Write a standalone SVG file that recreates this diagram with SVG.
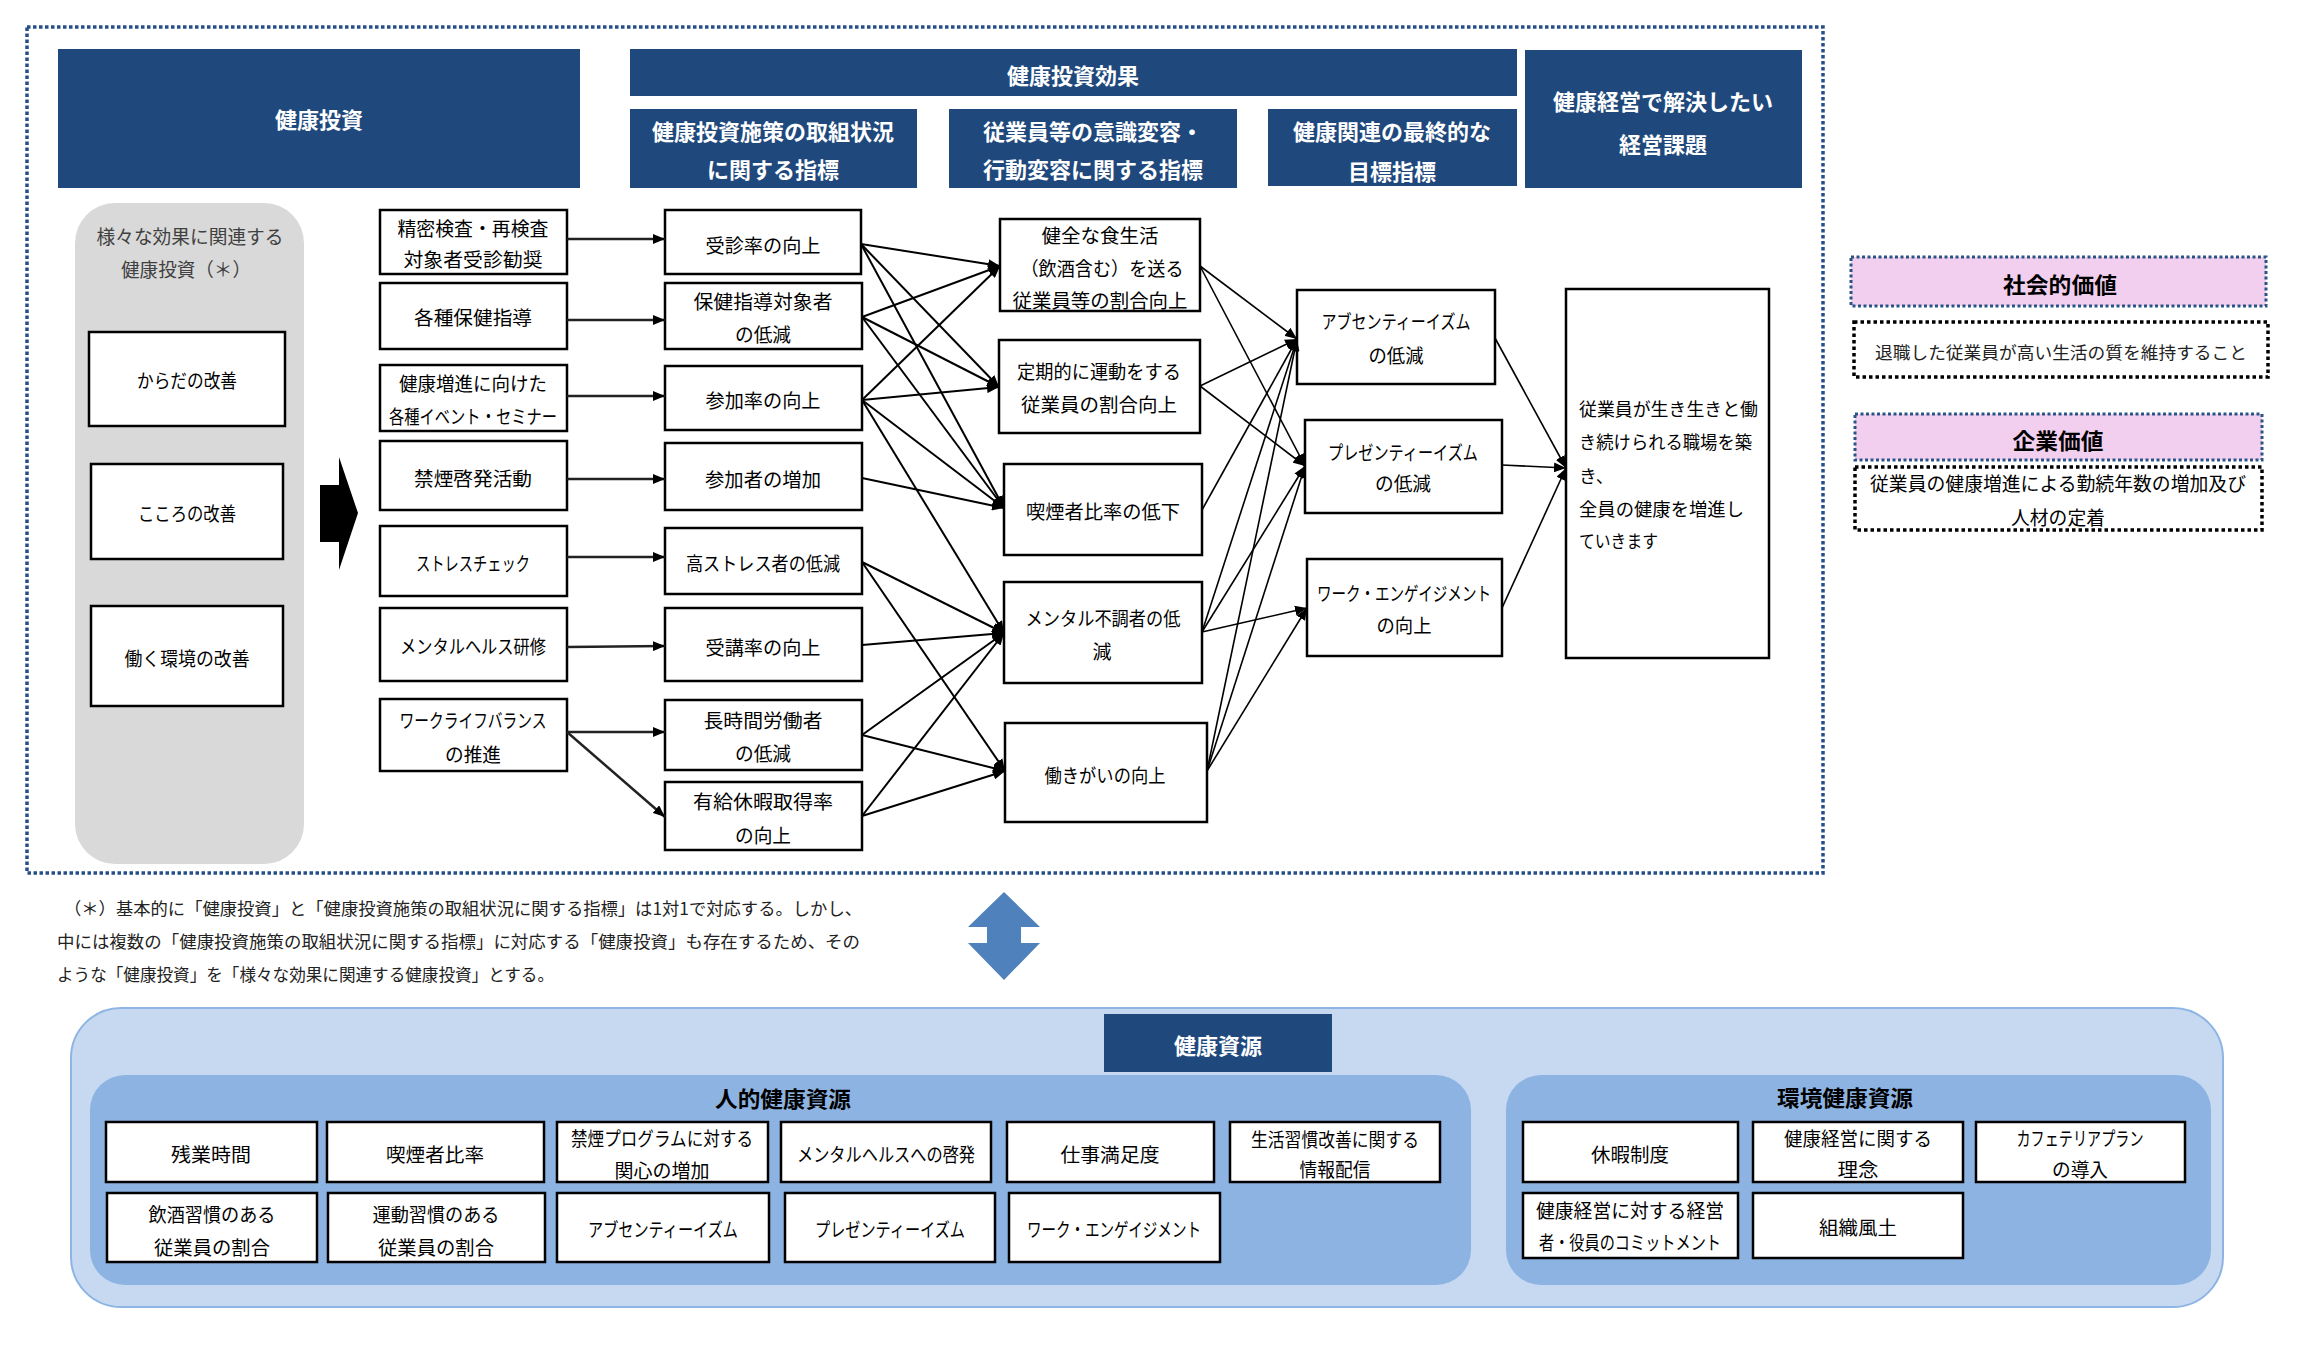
<svg xmlns="http://www.w3.org/2000/svg" width="2318" height="1345" viewBox="0 0 2318 1345" font-family="'Noto Sans CJK JP', 'Noto Sans', sans-serif">
<defs>
<style>
.hdr{fill:#1F497D}
.ht{fill:#fff;font-weight:bold;font-size:22px;text-anchor:middle;dominant-baseline:central}
.nb{fill:#fff;stroke:#000;stroke-width:2.5}
.t{font-size:19px;text-anchor:middle;dominant-baseline:central;fill:#000}
.tl{font-size:18px;dominant-baseline:central;fill:#000}
.gt{font-size:19px;text-anchor:middle;dominant-baseline:central;fill:#404040}
.fn{font-size:17px;dominant-baseline:central;fill:#222}
.bt{font-size:19px;text-anchor:middle;dominant-baseline:central;fill:#000}
.pink{fill:#F2CFEE;stroke:#2A5486;stroke-width:3;stroke-dasharray:3 2.5}
.dotb{fill:#fff;stroke:#000;stroke-width:3.5;stroke-dasharray:3.5 3}
.bold{font-weight:bold;font-size:22px;text-anchor:middle;dominant-baseline:central;fill:#000}
.c1{stroke:#222;stroke-width:2.5;fill:none;marker-end:url(#ah)}
.c2{stroke:#000;stroke-width:2;fill:none;marker-end:url(#ah)}
.c3{stroke:#000;stroke-width:1.6;fill:none;marker-end:url(#ah)}
</style>
<marker id="ah" viewBox="0 0 12 10" refX="12" refY="5" markerWidth="12" markerHeight="10" markerUnits="userSpaceOnUse" orient="auto"><path d="M0,0 L12,5 L0,10 z" fill="#000"/></marker>
</defs>
<rect x="0" y="0" width="2318" height="1345" fill="#fff"/>

<!-- outer dotted frame -->
<rect id="frame" x="27" y="27" width="1796" height="846" fill="none" stroke="#264F8A" stroke-width="3.5" stroke-dasharray="3.5 2.5"/>

<!-- headers -->
<g id="h-invest"><rect class="hdr" x="58" y="49" width="522" height="139"/><text class="ht" x="319" y="118">健康投資</text></g>
<g id="h-effect"><rect class="hdr" x="630" y="49" width="887" height="47"/><text class="ht" x="1073" y="74">健康投資効果</text></g>
<g id="h-sub1"><rect class="hdr" x="630" y="109" width="287" height="79"/><text class="ht" x="773" y="130">健康投資施策の取組状況</text><text class="ht" x="773" y="168">に関する指標</text></g>
<g id="h-sub2"><rect class="hdr" x="949" y="109" width="288" height="79"/><text class="ht" x="1093" y="130">従業員等の意識変容・</text><text class="ht" x="1093" y="168">行動変容に関する指標</text></g>
<g id="h-sub3"><rect class="hdr" x="1268" y="109" width="249" height="77"/><text class="ht" x="1392" y="130">健康関連の最終的な</text><text class="ht" x="1392" y="170">目標指標</text></g>
<g id="h-issue"><rect class="hdr" x="1525" y="50" width="277" height="138"/><text class="ht" x="1663" y="100">健康経営で解決したい</text><text class="ht" x="1663" y="143">経営課題</text></g>

<!-- gray column -->
<g id="various">
<rect x="75" y="203" width="229" height="661" rx="40" fill="#D9D9D9"/>
<text class="gt" x="190" y="235" textLength="187" lengthAdjust="spacingAndGlyphs">様々な効果に関連する</text>
<text class="gt" x="186" y="268" textLength="130" lengthAdjust="spacingAndGlyphs">健康投資（＊）</text>
</g>
<g id="karada"><rect class="nb" x="89" y="332" width="196" height="94"/><text class="t" x="187" y="379" textLength="100" lengthAdjust="spacingAndGlyphs">からだの改善</text></g>
<g id="kokoro"><rect class="nb" x="91" y="464" width="192" height="95"/><text class="t" x="187" y="512" textLength="98" lengthAdjust="spacingAndGlyphs">こころの改善</text></g>
<g id="hataraku"><rect class="nb" x="91" y="606" width="192" height="100"/><text class="t" x="187" y="657" textLength="125" lengthAdjust="spacingAndGlyphs">働く環境の改善</text></g>

<!-- big arrow -->
<polygon id="bigarrow" points="320,485 339,485 339,457 358,513 339,570 339,542 320,542" fill="#000"/>

<!-- column 1 -->
<g id="n-seimitsu"><rect class="nb" x="380" y="210" width="187" height="64"/><text class="t" x="473" y="227" textLength="151" lengthAdjust="spacingAndGlyphs">精密検査・再検査</text><text class="t" x="473" y="258" textLength="139" lengthAdjust="spacingAndGlyphs">対象者受診勧奨</text></g>
<g id="n-hoken"><rect class="nb" x="380" y="283" width="187" height="66"/><text class="t" x="473" y="316" textLength="118" lengthAdjust="spacingAndGlyphs">各種保健指導</text></g>
<g id="n-event"><rect class="nb" x="380" y="365" width="187" height="66"/><text class="t" x="473" y="382" textLength="148" lengthAdjust="spacingAndGlyphs">健康増進に向けた</text><text class="t" x="473" y="415" textLength="168" lengthAdjust="spacingAndGlyphs">各種イベント・セミナー</text></g>
<g id="n-kinen"><rect class="nb" x="380" y="441" width="187" height="69"/><text class="t" x="473" y="477" textLength="118" lengthAdjust="spacingAndGlyphs">禁煙啓発活動</text></g>
<g id="n-stress"><rect class="nb" x="380" y="526" width="187" height="70"/><text class="t" x="473" y="562" textLength="114" lengthAdjust="spacingAndGlyphs">ストレスチェック</text></g>
<g id="n-mental"><rect class="nb" x="380" y="608" width="187" height="73"/><text class="t" x="473" y="645" textLength="146" lengthAdjust="spacingAndGlyphs">メンタルヘルス研修</text></g>
<g id="n-wlb"><rect class="nb" x="380" y="699" width="187" height="72"/><text class="t" x="473" y="719" textLength="147" lengthAdjust="spacingAndGlyphs">ワークライフバランス</text><text class="t" x="473" y="753" textLength="56" lengthAdjust="spacingAndGlyphs">の推進</text></g>

<!-- column 2 -->
<g id="i-jushin"><rect class="nb" x="665" y="210" width="196" height="64"/><text class="t" x="763" y="244" textLength="115" lengthAdjust="spacingAndGlyphs">受診率の向上</text></g>
<g id="i-hoken"><rect class="nb" x="665" y="283" width="197" height="66"/><text class="t" x="763" y="300" textLength="139" lengthAdjust="spacingAndGlyphs">保健指導対象者</text><text class="t" x="763" y="333" textLength="56" lengthAdjust="spacingAndGlyphs">の低減</text></g>
<g id="i-sanka"><rect class="nb" x="665" y="366" width="197" height="64"/><text class="t" x="763" y="399" textLength="115" lengthAdjust="spacingAndGlyphs">参加率の向上</text></g>
<g id="i-sankasha"><rect class="nb" x="665" y="443" width="197" height="67"/><text class="t" x="763" y="478" textLength="116" lengthAdjust="spacingAndGlyphs">参加者の増加</text></g>
<g id="i-kostress"><rect class="nb" x="665" y="528" width="197" height="66"/><text class="t" x="763" y="562" textLength="154" lengthAdjust="spacingAndGlyphs">高ストレス者の低減</text></g>
<g id="i-juko"><rect class="nb" x="665" y="608" width="197" height="73"/><text class="t" x="763" y="646" textLength="115" lengthAdjust="spacingAndGlyphs">受講率の向上</text></g>
<g id="i-choji"><rect class="nb" x="665" y="700" width="197" height="70"/><text class="t" x="763" y="719" textLength="119" lengthAdjust="spacingAndGlyphs">長時間労働者</text><text class="t" x="763" y="752" textLength="56" lengthAdjust="spacingAndGlyphs">の低減</text></g>
<g id="i-yukyu"><rect class="nb" x="665" y="782" width="197" height="68"/><text class="t" x="763" y="800" textLength="140" lengthAdjust="spacingAndGlyphs">有給休暇取得率</text><text class="t" x="763" y="834" textLength="56" lengthAdjust="spacingAndGlyphs">の向上</text></g>

<!-- column 3 -->
<g id="b-shoku"><rect class="nb" x="1000" y="219" width="200" height="92"/><text class="t" x="1100" y="234" textLength="117" lengthAdjust="spacingAndGlyphs">健全な食生活</text><text class="t" x="1102" y="267" textLength="163" lengthAdjust="spacingAndGlyphs">（飲酒含む）を送る</text><text class="t" x="1100" y="299" textLength="175" lengthAdjust="spacingAndGlyphs">従業員等の割合向上</text></g>
<g id="b-undo"><rect class="nb" x="999" y="340" width="201" height="93"/><text class="t" x="1099" y="370" textLength="164" lengthAdjust="spacingAndGlyphs">定期的に運動をする</text><text class="t" x="1099" y="403" textLength="156" lengthAdjust="spacingAndGlyphs">従業員の割合向上</text></g>
<g id="b-kitsuen"><rect class="nb" x="1004" y="464" width="198" height="91"/><text class="t" x="1103" y="510" textLength="154" lengthAdjust="spacingAndGlyphs">喫煙者比率の低下</text></g>
<g id="b-mental"><rect class="nb" x="1004" y="582" width="198" height="101"/><text class="t" x="1103" y="617" textLength="155" lengthAdjust="spacingAndGlyphs">メンタル不調者の低</text><text class="t" x="1102" y="650">減</text></g>
<g id="b-yarigai"><rect class="nb" x="1005" y="723" width="202" height="99"/><text class="t" x="1105" y="774" textLength="121" lengthAdjust="spacingAndGlyphs">働きがいの向上</text></g>

<!-- column 4 -->
<g id="g-absen"><rect class="nb" x="1297" y="290" width="198" height="94"/><text class="t" x="1396" y="320" textLength="149" lengthAdjust="spacingAndGlyphs">アブセンティーイズム</text><text class="t" x="1396" y="354" textLength="55" lengthAdjust="spacingAndGlyphs">の低減</text></g>
<g id="g-presen"><rect class="nb" x="1305" y="420" width="197" height="93"/><text class="t" x="1403" y="451" textLength="150" lengthAdjust="spacingAndGlyphs">プレゼンティーイズム</text><text class="t" x="1403" y="482" textLength="56" lengthAdjust="spacingAndGlyphs">の低減</text></g>
<g id="g-engage"><rect class="nb" x="1307" y="559" width="195" height="97"/><text class="t" x="1404" y="592" textLength="174" lengthAdjust="spacingAndGlyphs">ワーク・エンゲイジメント</text><text class="t" x="1404" y="624" textLength="55" lengthAdjust="spacingAndGlyphs">の向上</text></g>

<!-- column 5 -->
<g id="goal"><rect class="nb" x="1566" y="289" width="203" height="369"/>
<text class="tl" x="1579" y="408" textLength="179" lengthAdjust="spacingAndGlyphs">従業員が生き生きと働</text>
<text class="tl" x="1579" y="441" textLength="173" lengthAdjust="spacingAndGlyphs">き続けられる職場を築</text>
<text class="tl" x="1579" y="475">き、</text>
<text class="tl" x="1579" y="508" textLength="165" lengthAdjust="spacingAndGlyphs">全員の健康を増進し</text>
<text class="tl" x="1579" y="540" textLength="79" lengthAdjust="spacingAndGlyphs">ていきます</text>
</g>

<!-- connectors -->
<g id="connectors">
<line class="c1" x1="567" y1="239" x2="665" y2="239"/>
<line class="c1" x1="567" y1="320" x2="665" y2="320"/>
<line class="c1" x1="567" y1="396" x2="665" y2="396"/>
<line class="c1" x1="567" y1="479" x2="665" y2="479"/>
<line class="c1" x1="567" y1="557" x2="665" y2="557"/>
<line class="c1" x1="567" y1="647" x2="665" y2="646"/>
<line class="c1" x1="567" y1="732" x2="665" y2="732"/>
<line class="c1" x1="567" y1="732" x2="665" y2="817"/>

<line class="c2" x1="861" y1="244" x2="1000" y2="266"/>
<line class="c2" x1="861" y1="244" x2="999" y2="387"/>
<line class="c2" x1="861" y1="244" x2="1004" y2="508"/>
<line class="c2" x1="862" y1="317" x2="1000" y2="266"/>
<line class="c2" x1="862" y1="317" x2="999" y2="387"/>
<line class="c2" x1="862" y1="317" x2="1004" y2="508"/>
<line class="c2" x1="862" y1="400" x2="1000" y2="266"/>
<line class="c2" x1="862" y1="400" x2="999" y2="387"/>
<line class="c2" x1="862" y1="400" x2="1004" y2="508"/>
<line class="c2" x1="862" y1="400" x2="1004" y2="633"/>
<line class="c2" x1="862" y1="478" x2="1004" y2="508"/>
<line class="c2" x1="862" y1="562" x2="1004" y2="633"/>
<line class="c2" x1="862" y1="562" x2="1005" y2="771"/>
<line class="c2" x1="862" y1="645" x2="1004" y2="633"/>
<line class="c2" x1="862" y1="735" x2="1004" y2="633"/>
<line class="c2" x1="862" y1="735" x2="1005" y2="771"/>
<line class="c2" x1="862" y1="816" x2="1004" y2="633"/>
<line class="c2" x1="862" y1="816" x2="1005" y2="771"/>

<line class="c3" x1="1200" y1="266" x2="1297" y2="339"/>
<line class="c3" x1="1200" y1="266" x2="1305" y2="466"/>
<line class="c3" x1="1200" y1="386" x2="1297" y2="339"/>
<line class="c3" x1="1200" y1="386" x2="1305" y2="466"/>
<line class="c3" x1="1202" y1="510" x2="1297" y2="339"/>
<line class="c3" x1="1202" y1="632" x2="1297" y2="339"/>
<line class="c3" x1="1202" y1="632" x2="1305" y2="466"/>
<line class="c3" x1="1202" y1="632" x2="1307" y2="608"/>
<line class="c3" x1="1207" y1="771" x2="1297" y2="339"/>
<line class="c3" x1="1207" y1="771" x2="1305" y2="466"/>
<line class="c3" x1="1207" y1="771" x2="1307" y2="608"/>

<line class="c3" x1="1495" y1="338" x2="1566" y2="468"/>
<line class="c3" x1="1502" y1="465" x2="1566" y2="468"/>
<line class="c3" x1="1502" y1="608" x2="1566" y2="468"/>
</g>

<!-- right side values -->
<g id="social-title"><rect class="pink" x="1851" y="257" width="415" height="49"/><text class="bold" x="2060" y="283" textLength="114" lengthAdjust="spacingAndGlyphs">社会的価値</text></g>
<g id="social-text"><rect class="dotb" x="1854" y="322" width="414" height="55"/><text class="fn" x="1875" y="351" font-size="18" textLength="372" lengthAdjust="spacingAndGlyphs" fill="#000">退職した従業員が高い生活の質を維持すること</text></g>
<g id="corp-title"><rect class="pink" x="1855" y="414" width="407" height="46"/><text class="bold" x="2058" y="439" textLength="91" lengthAdjust="spacingAndGlyphs">企業価値</text></g>
<g id="corp-text"><rect class="dotb" x="1855" y="467" width="407" height="63"/><text class="t" x="2058" y="482" font-size="18" textLength="376" lengthAdjust="spacingAndGlyphs">従業員の健康増進による勤続年数の増加及び</text><text class="t" x="2058" y="516" font-size="18" textLength="94" lengthAdjust="spacingAndGlyphs">人材の定着</text></g>

<!-- footnote -->
<g id="footnote">
<text class="fn" x="64" y="907" textLength="798" lengthAdjust="spacingAndGlyphs">（＊）基本的に「健康投資」と「健康投資施策の取組状況に関する指標」は1対1で対応する。しかし、</text>
<text class="fn" x="57" y="940" textLength="803" lengthAdjust="spacingAndGlyphs">中には複数の「健康投資施策の取組状況に関する指標」に対応する「健康投資」も存在するため、その</text>
<text class="fn" x="57" y="973" textLength="497" lengthAdjust="spacingAndGlyphs">ような「健康投資」を「様々な効果に関連する健康投資」とする。</text>
</g>

<!-- double arrow -->
<polygon id="dblarrow" points="1004,892 1040,927 1021,927 1021,943 1040,943 1004,980 968,943 987,943 987,927 968,927" fill="#4F81BD"/>

<!-- health resources -->
<g id="resources">
<rect x="71" y="1008" width="2152" height="299" rx="50" fill="#C6D9F1" stroke="#8EB4E3" stroke-width="2"/>
<rect class="hdr" x="1104" y="1014" width="228" height="58"/>
<text class="ht" x="1218" y="1044">健康資源</text>
</g>
<g id="human-panel">
<rect x="90" y="1075" width="1381" height="210" rx="35" fill="#8DB3E2"/>
<text class="bold" x="783" y="1097" font-size="21" textLength="136" lengthAdjust="spacingAndGlyphs">人的健康資源</text>
</g>
<g id="env-panel">
<rect x="1506" y="1075" width="705" height="210" rx="35" fill="#8DB3E2"/>
<text class="bold" x="1845" y="1096" font-size="21" textLength="136" lengthAdjust="spacingAndGlyphs">環境健康資源</text>
</g>

<g id="r-zangyo"><rect class="nb" x="106" y="1122" width="211" height="60"/><text class="bt" x="211" y="1153" textLength="80" lengthAdjust="spacingAndGlyphs">残業時間</text></g>
<g id="r-kitsuen"><rect class="nb" x="327" y="1122" width="217" height="60"/><text class="bt" x="435" y="1153" textLength="98" lengthAdjust="spacingAndGlyphs">喫煙者比率</text></g>
<g id="r-kinen"><rect class="nb" x="557" y="1122" width="211" height="60"/><text class="bt" x="662" y="1137" textLength="182" lengthAdjust="spacingAndGlyphs">禁煙プログラムに対する</text><text class="bt" x="662" y="1169" textLength="95" lengthAdjust="spacingAndGlyphs">関心の増加</text></g>
<g id="r-mental"><rect class="nb" x="781" y="1122" width="210" height="60"/><text class="bt" x="886" y="1153" textLength="178" lengthAdjust="spacingAndGlyphs">メンタルヘルスへの啓発</text></g>
<g id="r-shigoto"><rect class="nb" x="1007" y="1122" width="207" height="60"/><text class="bt" x="1110" y="1153" textLength="99" lengthAdjust="spacingAndGlyphs">仕事満足度</text></g>
<g id="r-seikatsu"><rect class="nb" x="1230" y="1122" width="210" height="60"/><text class="bt" x="1335" y="1138" font-size="17" textLength="168" lengthAdjust="spacingAndGlyphs">生活習慣改善に関する</text><text class="bt" x="1335" y="1168" font-size="17" textLength="71" lengthAdjust="spacingAndGlyphs">情報配信</text></g>
<g id="r-inshu"><rect class="nb" x="107" y="1193" width="210" height="69"/><text class="bt" x="212" y="1213" textLength="127" lengthAdjust="spacingAndGlyphs">飲酒習慣のある</text><text class="bt" x="212" y="1246" textLength="116" lengthAdjust="spacingAndGlyphs">従業員の割合</text></g>
<g id="r-undo"><rect class="nb" x="328" y="1193" width="217" height="69"/><text class="bt" x="436" y="1213" textLength="127" lengthAdjust="spacingAndGlyphs">運動習慣のある</text><text class="bt" x="436" y="1246" textLength="116" lengthAdjust="spacingAndGlyphs">従業員の割合</text></g>
<g id="r-absen"><rect class="nb" x="557" y="1193" width="212" height="69"/><text class="bt" x="663" y="1228" textLength="150" lengthAdjust="spacingAndGlyphs">アブセンティーイズム</text></g>
<g id="r-presen"><rect class="nb" x="785" y="1193" width="210" height="69"/><text class="bt" x="890" y="1228" textLength="150" lengthAdjust="spacingAndGlyphs">プレゼンティーイズム</text></g>
<g id="r-engage"><rect class="nb" x="1009" y="1193" width="211" height="69"/><text class="bt" x="1114" y="1228" textLength="174" lengthAdjust="spacingAndGlyphs">ワーク・エンゲイジメント</text></g>

<g id="e-kyuka"><rect class="nb" x="1523" y="1122" width="215" height="60"/><text class="bt" x="1630" y="1153" textLength="78" lengthAdjust="spacingAndGlyphs">休暇制度</text></g>
<g id="e-rinen"><rect class="nb" x="1753" y="1122" width="210" height="60"/><text class="bt" x="1858" y="1137" textLength="148" lengthAdjust="spacingAndGlyphs">健康経営に関する</text><text class="bt" x="1858" y="1168" textLength="41" lengthAdjust="spacingAndGlyphs">理念</text></g>
<g id="e-cafe"><rect class="nb" x="1976" y="1122" width="209" height="60"/><text class="bt" x="2080" y="1137" textLength="127" lengthAdjust="spacingAndGlyphs">カフェテリアプラン</text><text class="bt" x="2080" y="1168" textLength="56" lengthAdjust="spacingAndGlyphs">の導入</text></g>
<g id="e-commit"><rect class="nb" x="1523" y="1193" width="215" height="65"/><text class="bt" x="1630" y="1209" textLength="188" lengthAdjust="spacingAndGlyphs">健康経営に対する経営</text><text class="bt" x="1630" y="1241" textLength="182" lengthAdjust="spacingAndGlyphs">者・役員のコミットメント</text></g>
<g id="e-fudo"><rect class="nb" x="1753" y="1193" width="210" height="65"/><text class="bt" x="1858" y="1226" textLength="78" lengthAdjust="spacingAndGlyphs">組織風土</text></g>
</svg>
